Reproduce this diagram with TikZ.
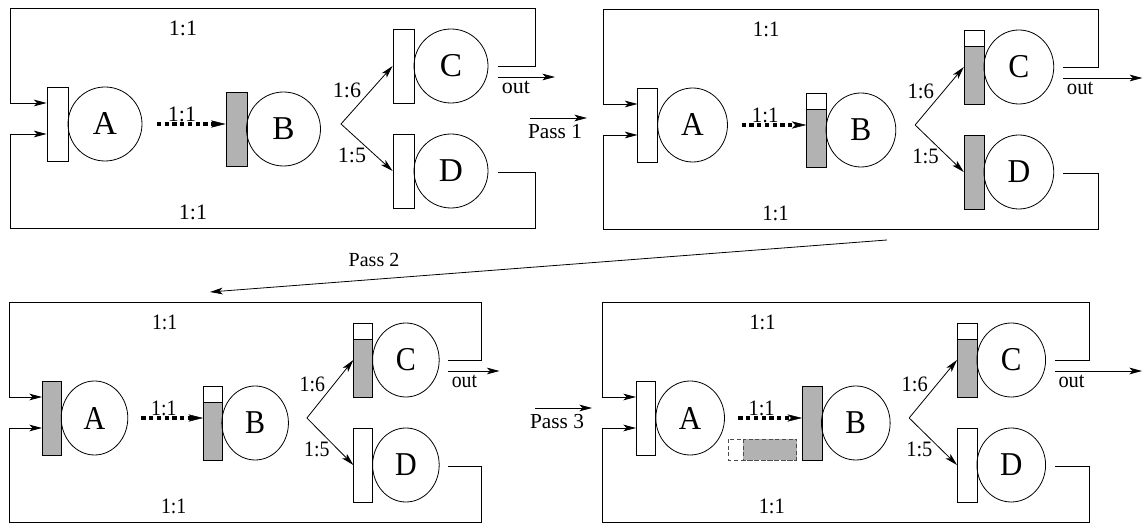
\documentclass[tikz,border=0pt]{standalone}
\usepackage{fontspec}
\setmainfont{Liberation Serif}
\usepackage{tikz}
\usetikzlibrary{arrows.meta, positioning, calc}
\definecolor{qgray}{gray}{0.70}

\begin{document}
\begin{tikzpicture}[x=0.75pt, y=-0.75pt, line width=0.6pt,
  >={Stealth[length=9.5pt, width=5pt, inset=2.4pt]},
  tank/.style={draw, fill=white, minimum width=15.75pt, minimum height=55.5pt, inner sep=0pt},
  lvl/.style={path picture={\filldraw[fill=qgray]
    (path picture bounding box.south west) rectangle
    ($(path picture bounding box.north east)!#1!(path picture bounding box.south east)$);}},
  proc/.style={draw, circle, minimum size=55.5pt, inner sep=0pt, font=\fontsize{25}{25}\selectfont},
  lbl/.style={font=\fontsize{16.5}{17}\selectfont, inner sep=0pt},
  flow/.style={->},
  dotflow/.style={-{Stealth[length=11pt, width=5.5pt, inset=2.8pt, line width=0.4pt]},
    line width=3.2pt, dash pattern=on 3.2pt off 2.6pt}]
\useasboundingbox (0,0) rectangle (1143,523);

% the four snapshots: panel/x/y/xscale/levels of A,B,C,D/tip of out
\foreach \i/\ox/\oy/\sx/\la/\lb/\lc/\ld/\tip in {
    1/10/8/1/1/0/1/1/545,
    2/603/9/0.943/1/0.22/0.22/0/572,
    3/9/302/0.90/0/0.22/0.22/1/545,
    4/602/302/0.928/1/0/0.22/1/582}{
\begin{scope}[shift={(\ox,\oy)}, xscale=\sx, transform shape]
  % buffers and stations
  \node[tank, lvl=\la] (p\i bA) at (47.5,116) {};
  \node[proc] (p\i A) at (95,116) {A};
  \node[tank, lvl=\lb] (p\i bB) at (226.5,121) {};
  \node[proc] (p\i B) at (273.5,121) {B};
  \node[tank, lvl=\lc] (p\i bC) at (393.5,58) {};
  \node[proc] (p\i C) at (441,58) {C};
  \node[tank, lvl=\ld] (p\i bD) at (393.5,163) {};
  \node[proc] (p\i D) at (441,163) {D};

  \coordinate (p\i f)  at (331,116);
  \coordinate (p\i ds) at (147,116);
  \coordinate (p\i oC) at (488,58);
  \coordinate (p\i oD) at (488,164);
  \coordinate (p\i iT) at (0,95);
  \coordinate (p\i iB) at (0,126);
  \coordinate (p\i os) at (488,69);
  \coordinate (p\i oe) at (\tip,69);

  % flows
  \draw[dotflow] (p\i ds) -- (p\i bB.west |- p\i ds);
  \draw[flow] (p\i f) -- (p\i bC.west);
  \draw[flow] (p\i f) -- (p\i bD.west);
  \draw[flow] (p\i oC) -| (525,0) -| (p\i iT) -- (p\i iT -| p\i bA.west);
  \draw[flow] (p\i oD) -| (525,220) -| (p\i iB) -- (p\i iB -| p\i bA.west);
  \draw[flow] (p\i os) -- (p\i oe);

  % ratios
  \node[lbl] (p\i r1) at (173,20) {1:1};
  \node[lbl] (p\i r2) at (183,204) {1:1};
  \node[lbl] (p\i r3) at (172,106) {1:1};
  \node[lbl] (p\i r4) at (337,82) {1:6};
  \node[lbl] (p\i r5) at (342,147) {1:5};
  \node[lbl] (p\i out) at (506,79) {out};
\end{scope}
}

% moved batch in the last snapshot
\begin{scope}[shift={(602,302)}, xscale=0.928]
  \draw[dash pattern=on 3pt off 2pt, black!70] (136,137) rectangle (210,158);
  \filldraw[fill=qgray, draw=black!70, dash pattern=on 3pt off 2pt] (152,137) rectangle (210,158);
\end{scope}

% passes
\coordinate (s1a) at (530,118);
\coordinate (s1b) at (587,118);
\coordinate (s2a) at (887,240);
\coordinate (s2b) at (210,292);
\coordinate (s3a) at (535,408);
\coordinate (s3b) at (592,408);
\draw[flow] (s1a) -- (s1b);
\draw[flow] (s2a) -- (s2b);
\draw[flow] (s3a) -- (s3b);
\node[lbl, font=\fontsize{16}{16}\selectfont] (pass1) at (555,132) {Pass 1};
\node[lbl, font=\fontsize{15}{15}\selectfont] (pass2) at (374,260) {Pass 2};
\node[lbl, font=\fontsize{16}{16}\selectfont] (pass3) at (557,422) {Pass 3};
\end{tikzpicture}
\end{document}
